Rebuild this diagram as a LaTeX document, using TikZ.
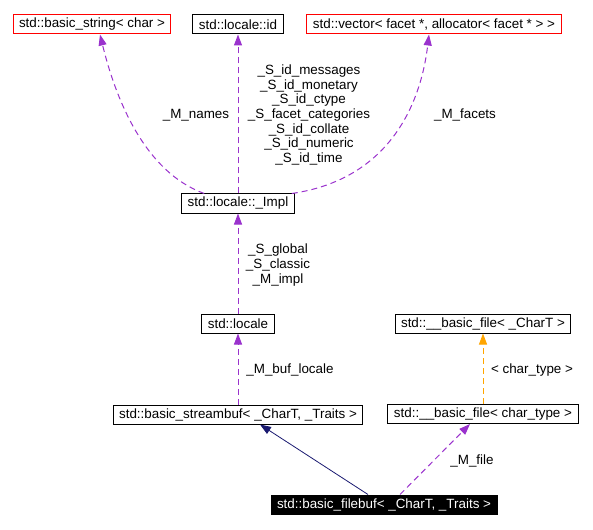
\documentclass[tikz,border=0pt]{standalone}
\usepackage{fontspec}
\setmainfont{Liberation Sans}
\usepackage{tikz}
\usetikzlibrary{arrows.meta}

\definecolor{usecol}{HTML}{9A32CD}
\definecolor{tplcol}{HTML}{FFA500}
\definecolor{inhcol}{HTML}{191970}

\begin{document}
\begin{tikzpicture}[x=1pt,y=-1pt,>={Triangle[length=11pt,width=8pt]},
                    font=\fontsize{13.4}{14.7}\selectfont,
                    cls/.style={draw=black,line width=1pt,inner xsep=6pt,inner ysep=0pt,minimum height=19pt},
                    extcls/.style={cls,draw=red},
                    selfcls/.style={cls,fill=black,text=white},
                    usage/.style={->,color=usecol,line width=1pt,dash pattern=on 6pt off 4pt},
                    templ/.style={usage,color=tplcol},
                    inherit/.style={->,color=inhcol,line width=0.8pt},
                    lbl/.style={align=center,inner sep=0pt}]
                \useasboundingbox (0,0) rectangle (593,529);
                \node[cls] (impl) at (238,203.5) {std::locale::\_Impl};
                \node[cls] [above of=impl, node distance=179pt] (lid) {std::locale::id};
                \node[extcls] [left of=lid, node distance=146pt] (bstr) {std::basic\_string< char >};
                \node[extcls] [right of=lid, node distance=196pt] (vec) {std::vector< facet *, allocator< facet * > >};
                \node[cls] [below of=impl, node distance=120pt] (loc) {std::locale};
                \node[cls] [below of=loc, node distance=91pt] (sbuf) {std::basic\_streambuf< \_CharT, \_Traits >};
                \node[cls] [right of=loc, node distance=245pt] (bfT) {std::\_\_basic\_file< \_CharT >};
                \node[cls] [below of=bfT, node distance=90.5pt] (bfc) {std::\_\_basic\_file< char\_type >};
                \node[selfcls] (fbuf) at (384,504.5) {std::basic\_filebuf< \_CharT, \_Traits >};
                % labels
                \node[lbl] (lnames) at (196,115) {\_M\_names};
                \node[lbl] (lids) at (309,115) {\_S\_id\_messages\\\_S\_id\_monetary\\\_S\_id\_ctype\\\_S\_facet\_categories\\\_S\_id\_collate\\\_S\_id\_numeric\\\_S\_id\_time};
                \node[lbl] (lfacets) at (465,115) {\_M\_facets};
                \node[lbl] (limpl) at (278,265) {\_S\_global\\\_S\_classic\\\_M\_impl};
                \node[lbl] (lbufloc) at (290,370) {\_M\_buf\_locale};
                \node[lbl] (lchar) at (532,370) {< char\_type >};
                \node[lbl] (lfile) at (472,461) {\_M\_file};
                % edges
                \draw[usage] ([xshift=23pt]impl.north west) .. controls (145,172) and (116,100) .. ([xshift=8pt]bstr.south);
                \draw[usage] ([xshift=-3pt]impl.north east) .. controls (385,180) and (420,110) .. ([xshift=-5pt]vec.south);
                \path (impl) edge[usage] (lid)
                (loc) edge[usage] (impl)
                (sbuf) edge[usage] (loc)
                (bfc) edge[templ] (bfT)
                ([xshift=-16pt]fbuf.north) edge[inherit] ([xshift=22pt]sbuf.south)
                ([xshift=16pt]fbuf.north) edge[usage] ([xshift=-13pt]bfc.south);
                \end{tikzpicture}
\end{document}
